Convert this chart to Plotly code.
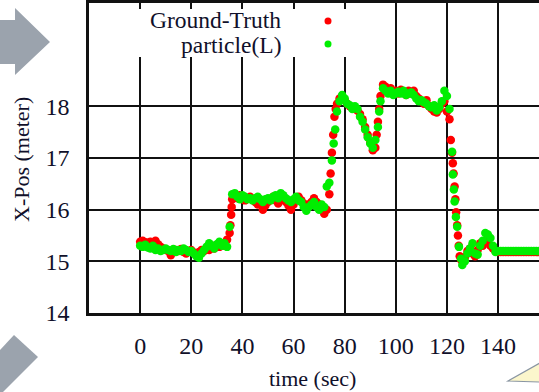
import plotly.graph_objects as go

# ---------------- data ----------------
gt_time = [0, 1, 2, 3, 4, 5, 6, 7, 8, 9, 10, 11, 12, 13, 14, 15, 16, 17, 18, 19, 20,
           21, 22, 23, 24, 25, 26, 27, 28, 29, 30, 31, 32, 33, 34, 35, 35.3, 35.6, 35.8, 36,
           37, 38, 39, 40, 41, 42, 43, 44, 45, 46, 47, 48, 49, 50, 51, 52, 53, 54, 55,
           56, 57, 58, 59, 60, 61, 62, 63, 64, 65, 66, 67, 68, 69, 70, 71, 72, 73,
           74, 74.5, 75, 75.5, 76, 76.5, 77, 78, 79, 80, 81, 82, 83, 84, 85,
           86, 87, 88, 89, 90, 91, 92, 92.5, 93, 93.5, 94, 95,
           96, 97, 98, 99, 100, 101, 102, 103, 104, 105, 106, 107, 108, 109, 110,
           111, 112, 113, 114, 115, 116, 117, 118, 119, 120, 121,
           121.5, 122, 122.3, 122.6, 123, 123.3, 123.6, 124, 124.3, 124.6, 125, 125.5, 126,
           127, 128, 129, 130, 131, 132, 133, 134, 135, 136, 137, 138, 139, 140,
           141, 142, 143, 144, 145, 146, 147, 148, 149, 150, 151, 152, 153, 154, 155, 156, 157, 158]
gt_xpos = [15.38, 15.40, 15.37, 15.36, 15.38, 15.35, 15.40, 15.33, 15.28, 15.25, 15.22,
           15.20, 15.12, 15.18, 15.22, 15.20, 15.24, 15.18, 15.15, 15.20, 15.22,
           15.17, 15.12, 15.18, 15.22, 15.20, 15.25, 15.22, 15.30, 15.25, 15.32,
           15.28, 15.35, 15.30, 15.42, 15.55, 15.70, 15.90, 16.05, 16.20,
           16.25, 16.22, 16.28, 16.20, 16.18, 16.22, 16.25, 16.20, 16.15,
           16.10, 16.12, 16.00, 16.08, 16.15, 16.20, 16.25, 16.18, 16.12, 16.20,
           16.22, 16.15, 16.08, 16.00, 16.10, 16.20, 16.25, 16.18, 16.12, 16.05,
           16.10, 16.15, 16.22, 16.15, 16.10, 16.05, 15.92, 16.00,
           16.30, 16.70, 17.10, 17.45, 17.80, 17.95, 18.05, 18.15, 18.20, 18.12,
           18.05, 18.00, 17.98, 17.95, 17.92, 17.85, 17.75, 17.60, 17.45, 17.30,
           17.15, 17.20, 17.45, 17.70, 17.95, 18.20, 18.42,
           18.38, 18.30, 18.35, 18.28, 18.30, 18.25, 18.32, 18.28, 18.22, 18.30,
           18.25, 18.30, 18.20, 18.15, 18.10, 18.05, 18.12, 18.00, 17.95, 17.90,
           17.88, 17.95, 18.05, 18.10, 17.90, 17.75,
           17.35, 17.10, 16.90, 16.70, 16.45, 16.20, 15.95, 15.70, 15.50, 15.30, 15.10, 15.03, 15.00,
           15.08, 15.20, 15.25, 15.15, 15.10, 15.22, 15.35, 15.30, 15.40, 15.42, 15.30, 15.25, 15.20, 15.18,
           15.18, 15.18, 15.18, 15.18, 15.18, 15.18, 15.18, 15.18, 15.18, 15.18, 15.18, 15.18,
           15.18, 15.18, 15.18, 15.18, 15.18, 15.18]

pf_time = [0, 1, 2, 3, 4, 5, 6, 7, 8, 9, 10, 11, 12, 13, 14, 15, 16, 17, 18, 19, 20,
           21, 22, 23, 24, 25, 26, 27, 28, 29, 30, 31, 32, 33, 34, 35, 36,
           37, 38, 39, 40, 41, 42, 43, 44, 45, 46, 47, 48, 49, 50, 51, 52, 53, 54, 55,
           56, 57, 58, 59, 60, 61, 62, 63, 64, 65, 66, 67, 68, 69, 70, 71, 72, 73,
           74, 75, 75.7, 76.3, 77, 78, 79, 80, 81, 82, 83, 84, 85,
           86, 87, 88, 89, 90, 91, 92, 93, 93.5, 94, 95,
           96, 97, 98, 99, 100, 101, 102, 103, 104, 105, 106, 107, 108, 109, 110,
           111, 112, 113, 114, 115, 116, 117, 118, 119, 120, 121,
           122, 122.3, 122.7, 123, 123.5, 124, 124.7, 125.5, 126,
           127, 128, 129, 130, 131, 132, 133, 134, 135, 136, 137, 138, 139, 140,
           141, 142, 143, 144, 145, 146, 147, 148, 149, 150, 151, 152, 153, 154, 155, 156, 157, 158]
pf_xpos = [15.30, 15.28, 15.32, 15.27, 15.25, 15.30, 15.22, 15.25, 15.20, 15.22, 15.25,
           15.22, 15.20, 15.24, 15.18, 15.22, 15.20, 15.25, 15.22, 15.18, 15.20,
           15.15, 15.10, 15.07, 15.15, 15.22, 15.28, 15.35, 15.30, 15.25, 15.33,
           15.38, 15.30, 15.35, 15.28, 15.67, 16.30,
           16.32, 16.25, 16.20, 16.28, 16.25, 16.20, 16.22, 16.18, 16.22,
           16.25, 16.20, 16.15, 16.20, 16.22, 16.18, 16.25, 16.28, 16.22, 16.32,
           16.28, 16.22, 16.18, 16.15, 16.20, 16.25, 16.18, 16.15, 16.05, 15.98,
           16.05, 16.10, 16.15, 16.05, 16.00, 16.10, 16.05, 16.45,
           16.52, 16.95, 17.28, 17.55, 17.90, 18.10, 18.22, 18.15,
           18.05, 18.02, 17.95, 18.00, 17.95, 17.80, 17.70, 17.55, 17.40, 17.28,
           17.20, 17.35, 17.60, 17.90, 18.10, 18.35,
           18.30, 18.25, 18.30, 18.22, 18.25, 18.28, 18.25, 18.30, 18.22, 18.25,
           18.27, 18.22, 18.15, 18.10, 18.12, 18.08, 18.05, 18.00, 17.98, 18.02,
           17.92, 17.98, 18.10, 18.30, 18.20, 17.95,
           17.12, 16.68, 16.39, 16.16, 15.86, 15.67, 15.28, 15.05, 14.93,
           15.00, 15.15, 15.25, 15.35, 15.15, 15.13, 15.30, 15.40, 15.55, 15.52, 15.45, 15.30, 15.18, 15.20,
           15.20, 15.20, 15.20, 15.20, 15.20, 15.20, 15.20, 15.20, 15.20, 15.20, 15.20, 15.20,
           15.20, 15.20, 15.20, 15.20, 15.20, 15.20]

x_ticks = [0, 20, 40, 60, 80, 100, 120, 140]
y_ticks = [14, 15, 16, 17, 18]
series_names = ["Ground-Truth", "particle(L)"]

# ---------------- figure ----------------
W, H = 539, 392
ML, MR, MT, MB = 89, 0, 3, 79
PW, PH = W - ML - MR, H - MT - MB


def px(x):
    return (x - ML) / PW


def py(y):
    return (MT + PH - y) / PH


FONT = "Liberation Serif"
TXT = "#10102a"
INK = "#111111"

fig = go.Figure()
fig.add_trace(go.Scatter(x=gt_time, y=gt_xpos, mode="markers", name=series_names[0],
                         marker=dict(color="#ff0000", size=8.5, line=dict(width=0)),
                         showlegend=False))
fig.add_trace(go.Scatter(x=pf_time, y=pf_xpos, mode="markers", name=series_names[1],
                         marker=dict(color="#00ee00", size=8.5, line=dict(width=0)),
                         showlegend=False))

shapes = []
# white legend box hiding the grid
shapes.append(dict(type="rect", xref="paper", yref="paper", layer="above",
                   x0=px(90.5), x1=px(352), y0=py(57), y1=py(9),
                   fillcolor="white", line=dict(width=0)))
# legend markers
for cy, col in [(21, "#ff0000"), (44, "#00ee00")]:
    shapes.append(dict(type="circle", xref="paper", yref="paper", layer="above",
                       x0=px(324.5), x1=px(331.5), y0=py(cy + 3.5), y1=py(cy - 3.5),
                       fillcolor=col, line=dict(width=0)))


def poly(points):
    p = "M " + " L ".join(f"{px(a):.4f},{py(b):.4f}" for a, b in points) + " Z"
    return p


# decorative arrows and callout around the figure
shapes.append(dict(type="path", xref="paper", yref="paper", layer="above",
                   path=poly([(0, 20), (15, 20), (15, 8), (50, 42), (15, 75), (15, 64), (0, 64)]),
                   fillcolor="#9ba3ad", line=dict(width=0)))
shapes.append(dict(type="path", xref="paper", yref="paper", layer="above",
                   path=poly([(0, 350), (14, 335), (38, 357), (3, 392), (0, 392)]),
                   fillcolor="#9ba3ad", line=dict(width=0)))
shapes.append(dict(type="path", xref="paper", yref="paper", layer="above",
                   path=poly([(508, 381), (540, 363), (540, 382)]),
                   fillcolor="#fbf6cc", line=dict(width=1.2, color="#8a96a3")))

annotations = []
for cy, name in [(20, series_names[0]), (45, series_names[1])]:
    annotations.append(dict(xref="paper", yref="paper", x=px(283), y=py(cy),
                            xanchor="right", yanchor="middle", text=name, showarrow=False,
                            font=dict(family=FONT, size=23.5, color=TXT)))
# axis titles
annotations.append(dict(xref="paper", yref="paper", x=px(312), y=py(378),
                        xanchor="center", yanchor="middle", text="time (sec)", showarrow=False,
                        font=dict(family=FONT, size=22, color=TXT)))
annotations.append(dict(xref="paper", yref="paper", x=px(21), y=py(160), textangle=-90,
                        xanchor="center", yanchor="middle", text="X-Pos (meter)", showarrow=False,
                        font=dict(family=FONT, size=22, color=TXT)))

fig.update_layout(
    width=W, height=H,
    margin=dict(l=ML, r=MR, t=MT, b=MB, pad=0),
    paper_bgcolor="white", plot_bgcolor="white",
    shapes=shapes, annotations=annotations,
    showlegend=False,
    font=dict(family=FONT, color=TXT),
    xaxis=dict(range=[-20, 156], tickvals=x_ticks, ticktext=[str(v) for v in x_ticks],
               automargin=False,
               showgrid=True, gridcolor=INK, gridwidth=1.5, zeroline=False,
               showline=True, linecolor=INK, linewidth=2.5, mirror="ticks",
               ticks="inside", ticklen=6, tickwidth=1.5, tickcolor=INK,
               tickfont=dict(family=FONT, size=24, color=TXT), ticklabelstandoff=9),
    yaxis=dict(range=[14, 20], tickvals=y_ticks, ticktext=[str(v) for v in y_ticks],
               automargin=False,
               showgrid=True, gridcolor=INK, gridwidth=1.5, zeroline=False,
               showline=True, linecolor=INK, linewidth=2.5, mirror=False,
               ticks="inside", ticklen=6, tickwidth=1.5, tickcolor=INK,
               tickfont=dict(family=FONT, size=24, color=TXT), ticklabelstandoff=12),
)

fig.write_html("out.html", config={"displayModeBar": False},
               post_script="document.body.style.margin='0px';document.body.style.padding='0px';")
